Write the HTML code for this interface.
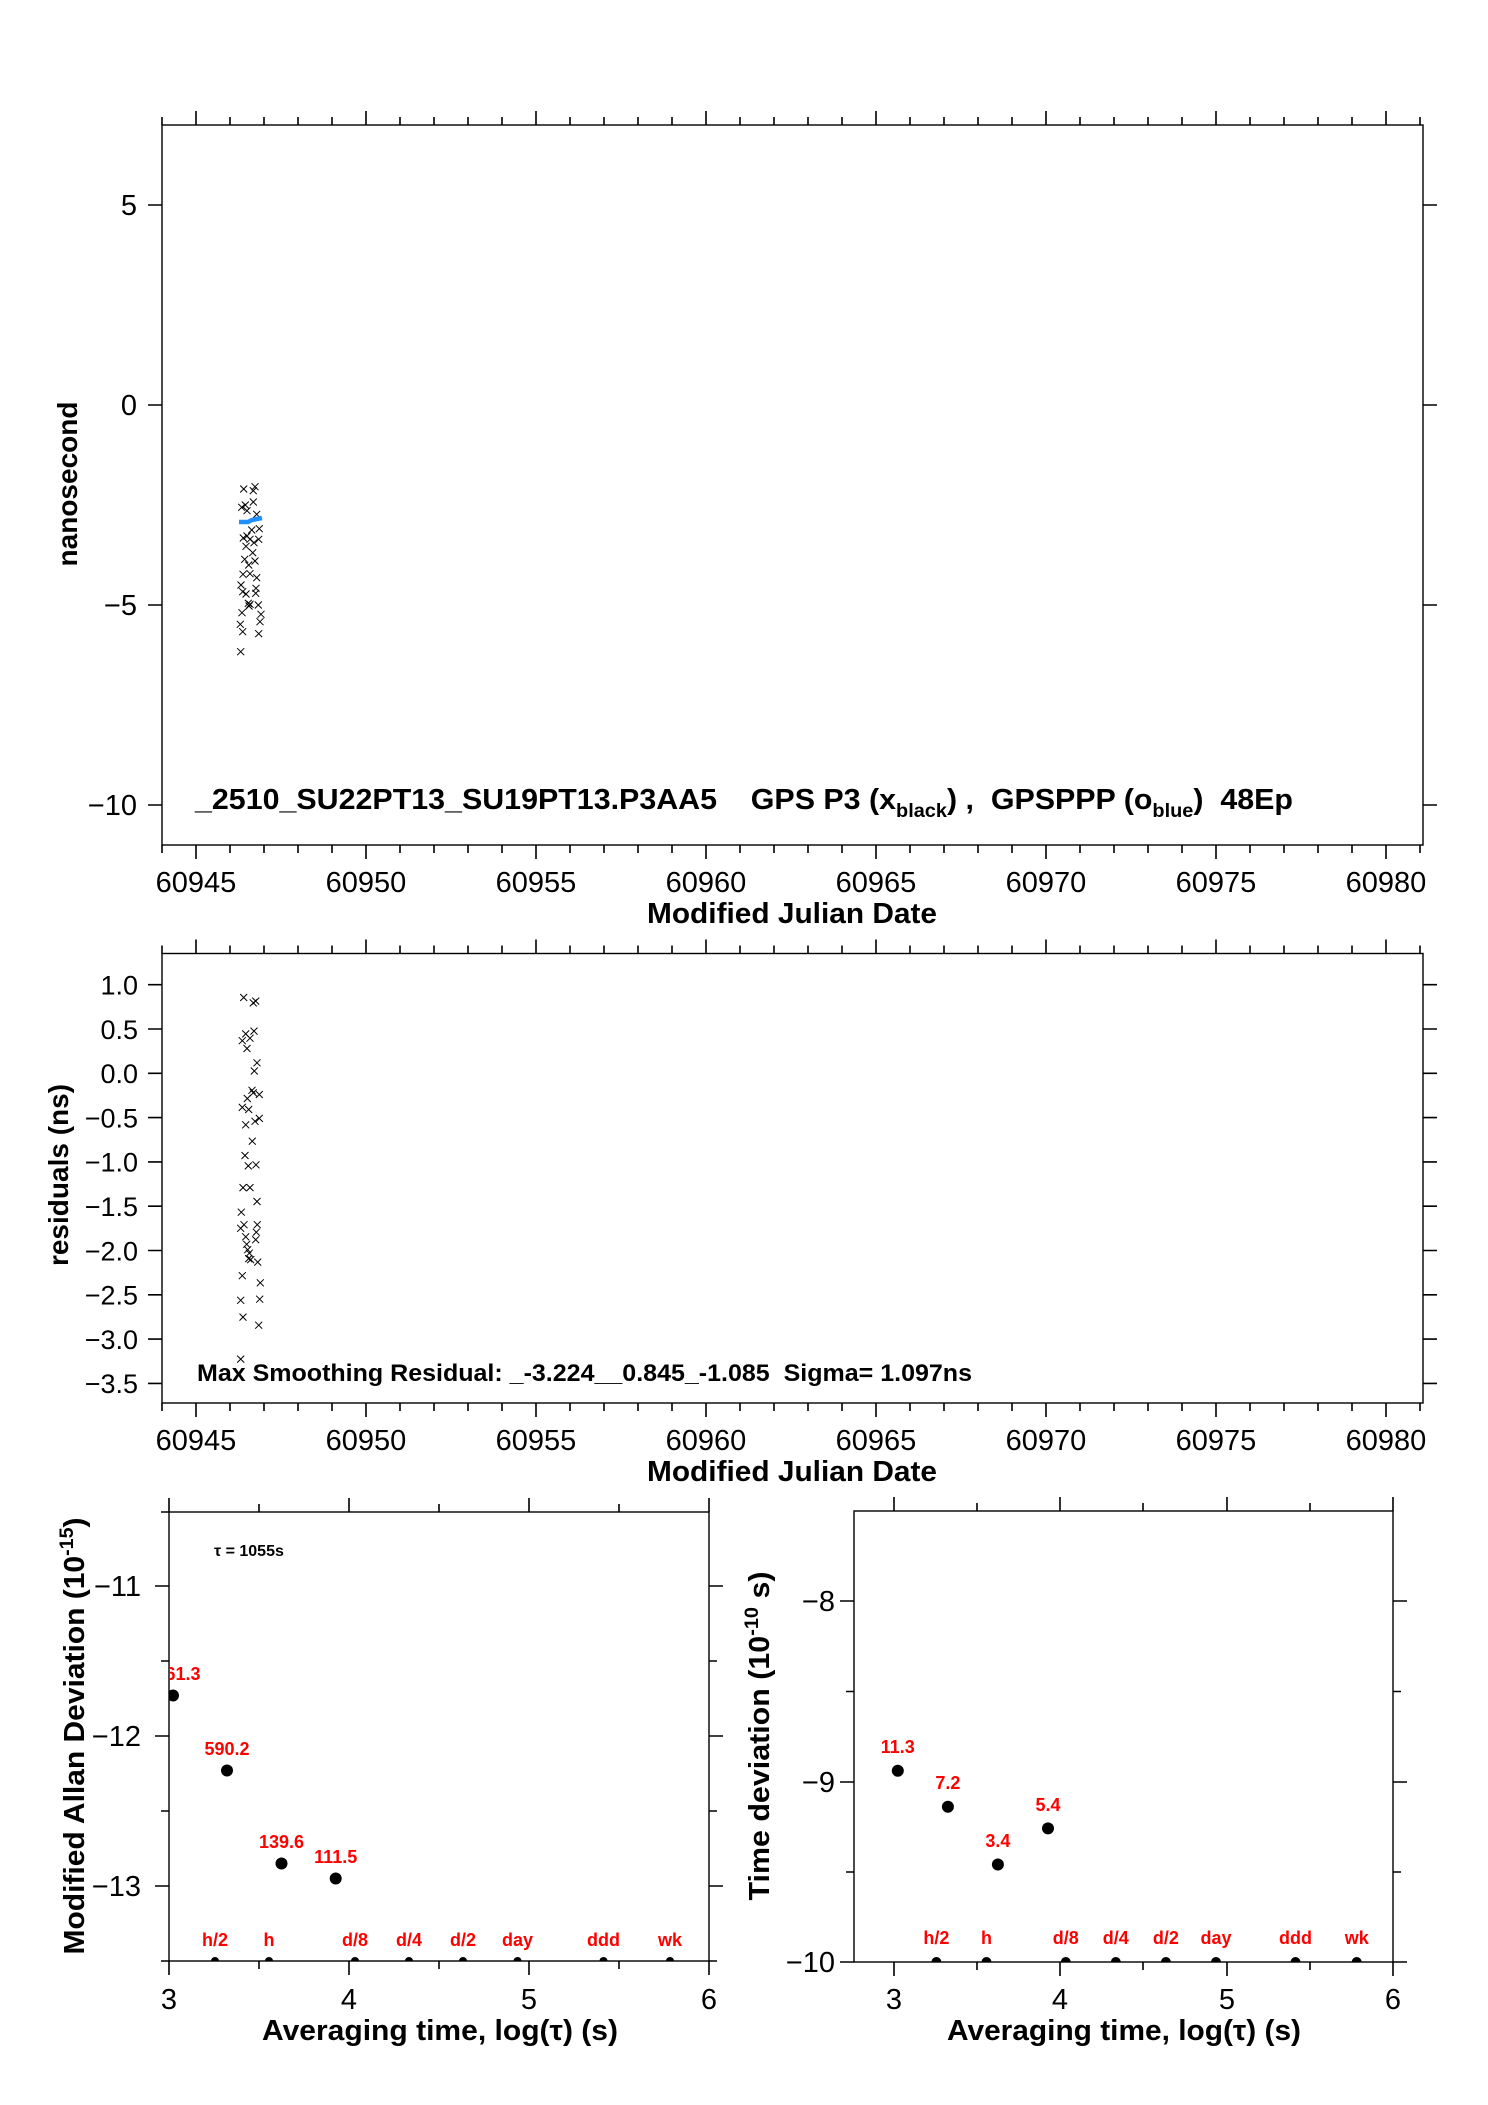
<!DOCTYPE html>
<html><head><meta charset="utf-8"><style>
html,body{margin:0;padding:0;background:#fff}
svg{display:block}
text{font-family:"Liberation Sans",Arial,sans-serif}
.pre{white-space:pre}
</style></head><body>
<svg width="1488" height="2105" viewBox="0 0 1488 2105" xmlns="http://www.w3.org/2000/svg">
<defs>
<clipPath id="c3"><rect x="169" y="1512" width="540" height="449"/></clipPath>
<clipPath id="c4"><rect x="854" y="1511" width="539" height="451"/></clipPath>
<g id="xm"><path d="M-3.5,-3.5L3.5,3.5M-3.5,3.5L3.5,-3.5" stroke="#000" stroke-width="1"/></g>
</defs>

<!-- ============ PLOT 1 ============ -->
<rect x="162" y="125" width="1261" height="720" fill="none" stroke="#000" stroke-width="1.4"/>
<g stroke="#000" stroke-width="1.6">
<path d="M196,125v-14M366,125v-14M536,125v-14M706,125v-14M876,125v-14M1046,125v-14M1216,125v-14M1386,125v-14"/>
<path d="M196,845v14M366,845v14M536,845v14M706,845v14M876,845v14M1046,845v14M1216,845v14M1386,845v14"/>
<path d="M162,125v-8M230,125v-8M264,125v-8M298,125v-8M332,125v-8M400,125v-8M434,125v-8M468,125v-8M502,125v-8M570,125v-8M604,125v-8M638,125v-8M672,125v-8M740,125v-8M774,125v-8M808,125v-8M842,125v-8M910,125v-8M944,125v-8M978,125v-8M1012,125v-8M1080,125v-8M1114,125v-8M1148,125v-8M1182,125v-8M1250,125v-8M1284,125v-8M1318,125v-8M1352,125v-8M1420,125v-8"/>
<path d="M162,845v8M230,845v8M264,845v8M298,845v8M332,845v8M400,845v8M434,845v8M468,845v8M502,845v8M570,845v8M604,845v8M638,845v8M672,845v8M740,845v8M774,845v8M808,845v8M842,845v8M910,845v8M944,845v8M978,845v8M1012,845v8M1080,845v8M1114,845v8M1148,845v8M1182,845v8M1250,845v8M1284,845v8M1318,845v8M1352,845v8M1420,845v8"/>
<path d="M148,205h14M148,405h14M148,605h14M148,805h14M1423,205h14M1423,405h14M1423,605h14M1423,805h14"/>
</g>
<g font-size="29" text-anchor="end">
<text x="137" y="215">5</text><text x="137" y="415">0</text><text x="137" y="615">−5</text><text x="137" y="815">−10</text>
</g>
<g font-size="29" text-anchor="middle">
<text x="196" y="892">60945</text><text x="366" y="892">60950</text><text x="536" y="892">60955</text><text x="706" y="892">60960</text><text x="876" y="892">60965</text><text x="1046" y="892">60970</text><text x="1216" y="892">60975</text><text x="1386" y="892">60980</text>
</g>
<text x="792" y="923" font-size="29" font-weight="bold" text-anchor="middle" textLength="290" lengthAdjust="spacingAndGlyphs">Modified Julian Date</text>
<text transform="translate(77,484) rotate(-90)" font-size="28" font-weight="bold" text-anchor="middle">nanosecond</text>
<text class="pre" x="195" y="809" font-size="29" font-weight="bold" textLength="1098" lengthAdjust="spacingAndGlyphs">_2510_SU22PT13_SU19PT13.P3AA5    GPS P3 (x<tspan font-size="19" dy="8">black</tspan><tspan dy="-8">) ,  GPSPPP (o</tspan><tspan font-size="19" dy="8">blue</tspan><tspan dy="-8">)  48Ep</tspan></text>
<g>
<use href="#xm" x="243.7" y="489"/><use href="#xm" x="253.3" y="490.7"/><use href="#xm" x="255" y="486.7"/><use href="#xm" x="245.3" y="505"/><use href="#xm" x="241.7" y="507.3"/><use href="#xm" x="247" y="510.7"/><use href="#xm" x="253.3" y="502"/><use href="#xm" x="256.7" y="514.3"/><use href="#xm" x="251.7" y="530"/><use href="#xm" x="259.3" y="528.7"/><use href="#xm" x="243.3" y="538"/><use href="#xm" x="247" y="536"/><use href="#xm" x="250" y="539.3"/><use href="#xm" x="258.7" y="539.3"/><use href="#xm" x="254" y="542.7"/><use href="#xm" x="246" y="546.3"/><use href="#xm" x="252.7" y="552.7"/><use href="#xm" x="244.7" y="559.3"/><use href="#xm" x="248.7" y="565"/><use href="#xm" x="255" y="561"/><use href="#xm" x="243" y="574.3"/><use href="#xm" x="250" y="573.7"/><use href="#xm" x="256.7" y="577.7"/><use href="#xm" x="241" y="585"/><use href="#xm" x="242.7" y="591.7"/><use href="#xm" x="256" y="588.3"/><use href="#xm" x="255.7" y="593.3"/><use href="#xm" x="246" y="594"/><use href="#xm" x="248.3" y="603.3"/><use href="#xm" x="250" y="604.3"/><use href="#xm" x="258.3" y="605"/><use href="#xm" x="249" y="606"/><use href="#xm" x="242" y="612.7"/><use href="#xm" x="261" y="614.3"/><use href="#xm" x="260" y="621.7"/><use href="#xm" x="240.3" y="624.3"/><use href="#xm" x="242.7" y="631.7"/><use href="#xm" x="258.7" y="633.7"/><use href="#xm" x="240.7" y="651.7"/>
</g>
<path d="M239,522 L248,522 L252,520 L262,518" fill="none" stroke="#1e90ff" stroke-width="4.5"/>

<!-- ============ PLOT 2 ============ -->
<rect x="162" y="953.5" width="1261" height="449.5" fill="none" stroke="#000" stroke-width="1.4"/>
<g stroke="#000" stroke-width="1.6">
<path d="M196,953.5v-14M366,953.5v-14M536,953.5v-14M706,953.5v-14M876,953.5v-14M1046,953.5v-14M1216,953.5v-14M1386,953.5v-14"/>
<path d="M196,1403v14M366,1403v14M536,1403v14M706,1403v14M876,1403v14M1046,1403v14M1216,1403v14M1386,1403v14"/>
<path d="M162,953.5v-8M230,953.5v-8M264,953.5v-8M298,953.5v-8M332,953.5v-8M400,953.5v-8M434,953.5v-8M468,953.5v-8M502,953.5v-8M570,953.5v-8M604,953.5v-8M638,953.5v-8M672,953.5v-8M740,953.5v-8M774,953.5v-8M808,953.5v-8M842,953.5v-8M910,953.5v-8M944,953.5v-8M978,953.5v-8M1012,953.5v-8M1080,953.5v-8M1114,953.5v-8M1148,953.5v-8M1182,953.5v-8M1250,953.5v-8M1284,953.5v-8M1318,953.5v-8M1352,953.5v-8M1420,953.5v-8"/>
<path d="M162,1403v8M230,1403v8M264,1403v8M298,1403v8M332,1403v8M400,1403v8M434,1403v8M468,1403v8M502,1403v8M570,1403v8M604,1403v8M638,1403v8M672,1403v8M740,1403v8M774,1403v8M808,1403v8M842,1403v8M910,1403v8M944,1403v8M978,1403v8M1012,1403v8M1080,1403v8M1114,1403v8M1148,1403v8M1182,1403v8M1250,1403v8M1284,1403v8M1318,1403v8M1352,1403v8M1420,1403v8"/>
<path d="M148,984.7h14M148,1029h14M148,1073.3h14M148,1117.6h14M148,1161.9h14M148,1206.2h14M148,1250.5h14M148,1294.8h14M148,1339.1h14M148,1383.4h14"/>
<path d="M1423,984.7h14M1423,1029h14M1423,1073.3h14M1423,1117.6h14M1423,1161.9h14M1423,1206.2h14M1423,1250.5h14M1423,1294.8h14M1423,1339.1h14M1423,1383.4h14"/>
</g>
<g font-size="27" text-anchor="end">
<text x="138" y="994.5">1.0</text><text x="138" y="1038.8">0.5</text><text x="138" y="1083.1">0.0</text><text x="138" y="1127.4">−0.5</text><text x="138" y="1171.7">−1.0</text><text x="138" y="1216">−1.5</text><text x="138" y="1260.3">−2.0</text><text x="138" y="1304.6">−2.5</text><text x="138" y="1348.9">−3.0</text><text x="138" y="1393.2">−3.5</text>
</g>
<g font-size="29" text-anchor="middle">
<text x="196" y="1450">60945</text><text x="366" y="1450">60950</text><text x="536" y="1450">60955</text><text x="706" y="1450">60960</text><text x="876" y="1450">60965</text><text x="1046" y="1450">60970</text><text x="1216" y="1450">60975</text><text x="1386" y="1450">60980</text>
</g>
<text x="792" y="1481" font-size="29" font-weight="bold" text-anchor="middle" textLength="290" lengthAdjust="spacingAndGlyphs">Modified Julian Date</text>
<text transform="translate(68,1175) rotate(-90)" font-size="28" font-weight="bold" text-anchor="middle">residuals (ns)</text>
<text class="pre" x="197" y="1381" font-size="24" font-weight="bold" textLength="775" lengthAdjust="spacingAndGlyphs">Max Smoothing Residual: _-3.224__0.845_-1.085  Sigma= 1.097ns</text>
<g>
<use href="#xm" x="243.7" y="997.5"/><use href="#xm" x="253.3" y="1002.9"/><use href="#xm" x="255.7" y="1001.1"/><use href="#xm" x="242.3" y="1040.7"/><use href="#xm" x="245.7" y="1033.9"/><use href="#xm" x="250" y="1038.2"/><use href="#xm" x="254" y="1031.1"/><use href="#xm" x="247" y="1048.5"/><use href="#xm" x="257" y="1062.8"/><use href="#xm" x="254.3" y="1071"/><use href="#xm" x="252" y="1090.3"/><use href="#xm" x="253.3" y="1092.8"/><use href="#xm" x="259.3" y="1094.5"/><use href="#xm" x="247.3" y="1098.5"/><use href="#xm" x="242.3" y="1107.4"/><use href="#xm" x="248.7" y="1109.5"/><use href="#xm" x="245.7" y="1124.8"/><use href="#xm" x="255" y="1121.3"/><use href="#xm" x="259.3" y="1118.4"/><use href="#xm" x="252.3" y="1141.2"/><use href="#xm" x="245" y="1155.5"/><use href="#xm" x="248.3" y="1165.9"/><use href="#xm" x="256" y="1164.8"/><use href="#xm" x="243" y="1187.6"/><use href="#xm" x="250" y="1187.6"/><use href="#xm" x="257" y="1201.5"/><use href="#xm" x="241.3" y="1212.2"/><use href="#xm" x="240.7" y="1228.3"/><use href="#xm" x="244" y="1224.7"/><use href="#xm" x="257.3" y="1224.7"/><use href="#xm" x="245.7" y="1236.8"/><use href="#xm" x="256.3" y="1232.2"/><use href="#xm" x="255.7" y="1239.7"/><use href="#xm" x="246.7" y="1244.3"/><use href="#xm" x="247.7" y="1249.7"/><use href="#xm" x="249.3" y="1253.2"/><use href="#xm" x="248.7" y="1258.6"/><use href="#xm" x="250.7" y="1259.6"/><use href="#xm" x="257.7" y="1262.1"/><use href="#xm" x="242.3" y="1275.7"/><use href="#xm" x="260.3" y="1282.8"/><use href="#xm" x="240.7" y="1300.3"/><use href="#xm" x="259.7" y="1299.2"/><use href="#xm" x="243" y="1317.1"/><use href="#xm" x="258.7" y="1325.2"/><use href="#xm" x="240.7" y="1359.1"/>
</g>

<!-- ============ PLOT 3 (MDEV) ============ -->
<rect x="169" y="1512" width="540" height="449" fill="none" stroke="#000" stroke-width="1.4"/>
<g stroke="#000" stroke-width="1.6">
<path d="M169,1512v-14M349,1512v-14M529,1512v-14M709,1512v-14M259,1512v-8M439,1512v-8M619,1512v-8"/>
<path d="M169,1961v14M349,1961v14M529,1961v14M709,1961v14M259,1961v8M439,1961v8M619,1961v8"/>
<path d="M155,1586h14M155,1736h14M155,1886h14M161,1661h8M161,1811h8M161,1961h8M161,1512h8"/>
<path d="M709,1586h14M709,1736h14M709,1886h14M709,1661h8M709,1811h8M709,1961h8"/>
</g>
<g font-size="29" text-anchor="end">
<text x="141" y="1596">−11</text><text x="141" y="1746">−12</text><text x="141" y="1896">−13</text>
</g>
<g font-size="29" text-anchor="middle">
<text x="169" y="2009">3</text><text x="349" y="2009">4</text><text x="529" y="2009">5</text><text x="709" y="2009">6</text>
</g>
<text x="440" y="2040" font-size="29" font-weight="bold" text-anchor="middle" textLength="356" lengthAdjust="spacingAndGlyphs">Averaging time, log(τ) (s)</text>
<text transform="translate(84,1736) rotate(-90)" font-size="29" font-weight="bold" text-anchor="middle" textLength="437" lengthAdjust="spacingAndGlyphs">Modified Allan Deviation (10<tspan font-size="19" dy="-11">-15</tspan><tspan dy="11">)</tspan></text>
<text x="214" y="1556" font-size="16" font-weight="bold">τ = 1055s</text>
<g clip-path="url(#c3)">
<circle cx="173" cy="1695.5" r="6"/><circle cx="227" cy="1770.5" r="6"/><circle cx="281.5" cy="1863.5" r="6"/><circle cx="335.7" cy="1878.5" r="6"/>
<g fill="#f00" font-size="18" font-weight="bold" text-anchor="middle">
<text x="173" y="1680">1061.3</text><text x="227" y="1755">590.2</text><text x="281.5" y="1848">139.6</text><text x="335.7" y="1863">111.5</text>
<text x="215" y="1946">h/2</text><text x="269" y="1946">h</text><text x="355" y="1946">d/8</text><text x="409" y="1946">d/4</text><text x="463" y="1946">d/2</text><text x="517.5" y="1946">day</text><text x="603.5" y="1946">ddd</text><text x="670" y="1946">wk</text>
</g>
<circle cx="215" cy="1961" r="4"/><circle cx="269" cy="1961" r="4"/><circle cx="355" cy="1961" r="4"/><circle cx="409" cy="1961" r="4"/><circle cx="463" cy="1961" r="4"/><circle cx="517.5" cy="1961" r="4"/><circle cx="603.5" cy="1961" r="4"/><circle cx="670" cy="1961" r="4"/>
</g>

<!-- ============ PLOT 4 (TDEV) ============ -->
<rect x="854" y="1511" width="539" height="451" fill="none" stroke="#000" stroke-width="1.4"/>
<g stroke="#000" stroke-width="1.6">
<path d="M894,1511v-14M1060,1511v-14M1227,1511v-14M1393,1511v-14M977,1511v-8M1143,1511v-8M1310,1511v-8"/>
<path d="M894,1962v14M1060,1962v14M1227,1962v14M1393,1962v14M977,1962v8M1143,1962v8M1310,1962v8"/>
<path d="M840,1601h14M840,1782h14M840,1962h14M846,1691.5h8M846,1872h8"/>
<path d="M1393,1601h14M1393,1782h14M1393,1962h14M1393,1691.5h8M1393,1872h8"/>
</g>
<g font-size="29" text-anchor="end">
<text x="835" y="1611">−8</text><text x="835" y="1792">−9</text><text x="835" y="1972">−10</text>
</g>
<g font-size="29" text-anchor="middle">
<text x="894" y="2009">3</text><text x="1060" y="2009">4</text><text x="1227" y="2009">5</text><text x="1393" y="2009">6</text>
</g>
<text x="1124" y="2040" font-size="29" font-weight="bold" text-anchor="middle" textLength="354" lengthAdjust="spacingAndGlyphs">Averaging time, log(τ) (s)</text>
<text transform="translate(769,1736) rotate(-90)" font-size="29" font-weight="bold" text-anchor="middle" textLength="329" lengthAdjust="spacingAndGlyphs">Time deviation (10<tspan font-size="19" dy="-11">-10</tspan><tspan dy="11"> s)</tspan></text>
<g clip-path="url(#c4)">
<circle cx="897.8" cy="1770.7" r="6"/><circle cx="947.9" cy="1806.8" r="6"/><circle cx="997.9" cy="1864.5" r="6"/><circle cx="1048" cy="1828.4" r="6"/>
<g fill="#f00" font-size="18" font-weight="bold" text-anchor="middle">
<text x="897.8" y="1753">11.3</text><text x="947.9" y="1789">7.2</text><text x="997.9" y="1847">3.4</text><text x="1048" y="1811">5.4</text>
<text x="936.4" y="1944">h/2</text><text x="986.5" y="1944">h</text><text x="1065.8" y="1944">d/8</text><text x="1115.8" y="1944">d/4</text><text x="1165.9" y="1944">d/2</text><text x="1216" y="1944">day</text><text x="1295.5" y="1944">ddd</text><text x="1356.7" y="1944">wk</text>
</g>
<circle cx="936.4" cy="1962" r="5"/><circle cx="986.5" cy="1962" r="5"/><circle cx="1065.8" cy="1962" r="5"/><circle cx="1115.8" cy="1962" r="5"/><circle cx="1165.9" cy="1962" r="5"/><circle cx="1216" cy="1962" r="5"/><circle cx="1295.5" cy="1962" r="5"/><circle cx="1356.7" cy="1962" r="5"/>
</g>
</svg>
</body></html>
